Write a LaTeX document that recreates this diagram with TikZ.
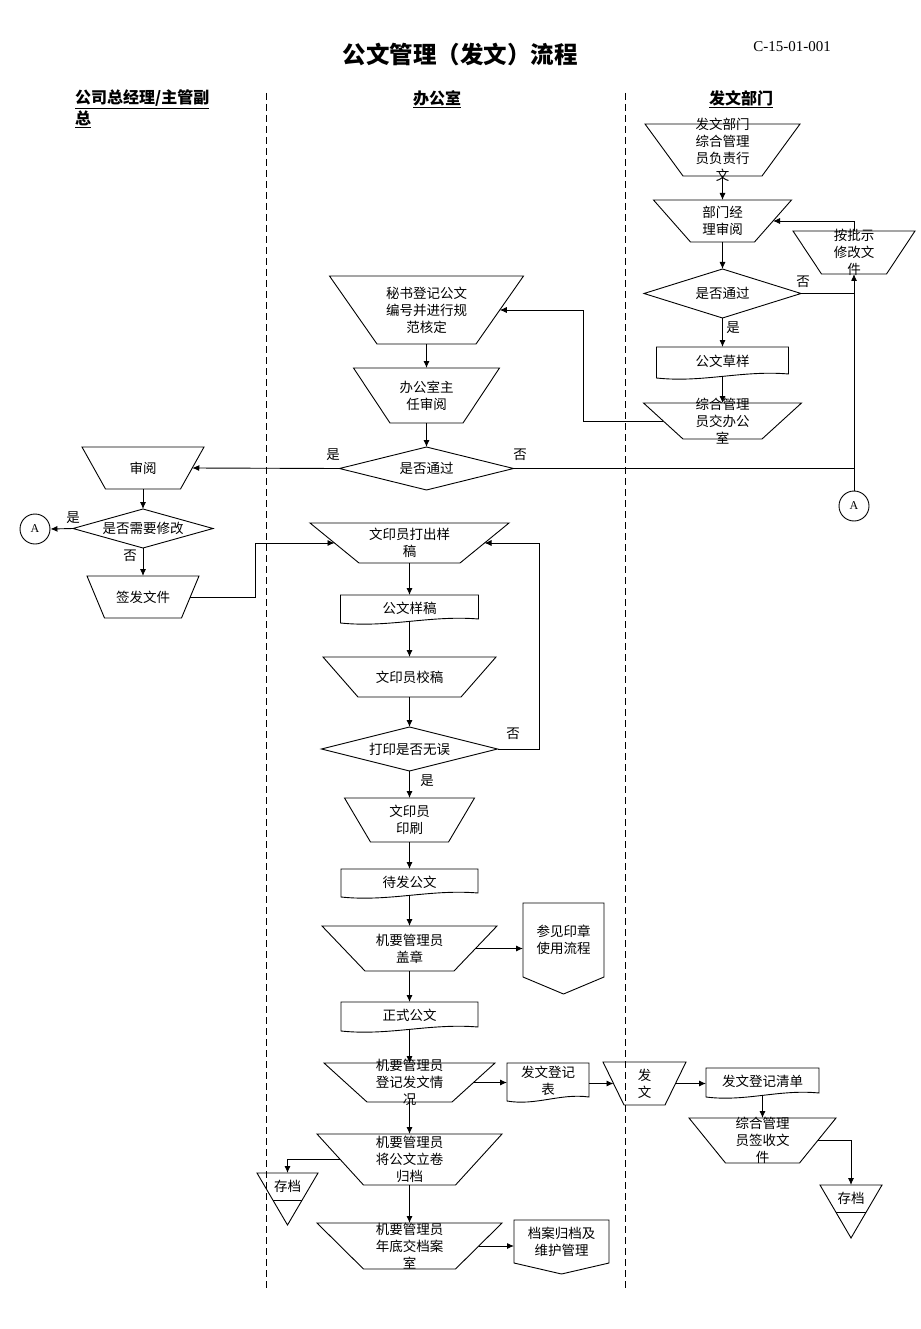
\documentclass[tikz,border=0pt]{standalone}
\usepackage{fontspec}
\setmainfont{Noto Sans CJK SC}
\newfontfamily\lserif{Liberation Serif}
\usetikzlibrary{arrows.meta}
\tikzset{
  shp/.style={draw=black, line width=0.9pt, line join=miter},
  anchorbox/.style={rectangle, draw=none, inner sep=0pt, outer sep=0pt},
  txt/.style={inner sep=0pt, align=center, font=\fontsize{13.5}{17}\selectfont},
  lbl/.style={inner sep=0pt, font=\fontsize{13.5}{17}\selectfont},
  arr/.style={draw, line width=0.9pt, -{Latex[length=7pt,width=6pt]}},
  conn/.style={draw, line width=0.9pt},
  lanesep/.style={draw, line width=0.9pt, dash pattern=on 7pt off 4pt},
  hdr/.style={inner sep=0pt, font=\bfseries\fontsize{16}{19}\selectfont},
  conncircle/.style={circle, draw, line width=0.9pt, minimum size=30pt, inner sep=0pt, font=\lserif\fontsize{12}{14}\selectfont},
}
% name, cx, ytop, ybot, top half width, bottom half width, text
\newcommand{\trapbox}[7]{%
  \draw[shp] ({#2-#5},#3) -- ({#2+#5},#3) -- ({#2+#6},#4) -- ({#2-#6},#4) -- cycle;
  \node[anchorbox, minimum width={2*#5}, minimum height={#4-#3}] (#1) at (#2,{(#3+#4)/2}) {};
  \coordinate (#1-e) at ({#2+(#5+#6)/2},{(#3+#4)/2});
  \coordinate (#1-w) at ({#2-(#5+#6)/2},{(#3+#4)/2});
  \node[txt] (#1-t) at (#1.center) {#7};
}
% name, cx, cy, half width, half height, text
\newcommand{\decision}[6]{%
  \draw[shp] ({#2-#4},#3) -- (#2,{#3-#5}) -- ({#2+#4},#3) -- (#2,{#3+#5}) -- cycle;
  \node[anchorbox, minimum width={2*#4}, minimum height={2*#5}] (#1) at (#2,#3) {};
  \node[txt] (#1-t) at (#2,#3) {#6};
}
% name, x1, x2, ytop, ybot, text
\newcommand{\docbox}[6]{%
  \draw[shp] (#2,#4) -- (#3,#4) -- (#3,{#5-4}) .. controls ({#2+0.65*(#3-#2)},{#5-8}) and ({#2+0.35*(#3-#2)},{#5+5}) .. (#2,#5) -- cycle;
  \node[anchorbox, minimum width={#3-#2}, minimum height={#5-#4}] (#1) at ({(#2+#3)/2},{(#4+#5)/2}) {};
  \coordinate (#1-s) at ({(#2+#3)/2},{#5-2});
  \node[txt] (#1-t) at ({(#2+#3)/2},{(#4+#5)/2-1}) {#6};
}
% name, x1, x2, ytop, yside, yapex, text
\newcommand{\offpage}[7]{%
  \draw[shp] (#2,#4) -- (#3,#4) -- (#3,#5) -- ({(#2+#3)/2},#6) -- (#2,#5) -- cycle;
  \node[anchorbox, minimum width={#3-#2}, minimum height={#6-#4}] (#1) at ({(#2+#3)/2},{(#4+#6)/2}) {};
  \node[txt] (#1-t) at ({(#2+#3)/2},{(#4+#5)/2}) {#7};
}
% name, cx, ytop, half width, yapex, yline, text
\newcommand{\storetri}[7]{%
  \draw[shp] ({#2-#4},#3) -- ({#2+#4},#3) -- (#2,#5) -- cycle;
  \pgfmathsetmacro\trilw{#4*(#5-#6)/(#5-#3)}
  \draw[shp] ({#2-\trilw},#6) -- ({#2+\trilw},#6);
  \node[anchorbox, minimum width={2*#4}, minimum height={#5-#3}] (#1) at (#2,{(#3+#5)/2}) {};
  \node[txt] (#1-t) at (#2,{(#3+#6)/2}) {#7};
}
\begin{document}
\begin{tikzpicture}[x=1pt,y=-1pt]
\useasboundingbox (0,0) rectangle (920,1329);
\fill[white] (0,0) rectangle (920,1329);

% title and headers
\node[inner sep=0pt, font=\bfseries\fontsize{23.5}{28}\selectfont] (title) at (460,55) {公文管理（发文）流程};
\node[inner sep=0pt, font=\lserif\fontsize{15}{18}\selectfont] (code) at (792,47) {C-15-01-001};
\node[hdr, anchor=west] (h1a) at (75,99) {\underline{公司总经理/主管副}};
\node[hdr, anchor=west] (h1b) at (75,119) {\underline{总}};
\node[hdr] (h2) at (437,99) {\underline{办公室}};
\node[hdr] (h3) at (741,99) {\underline{发文部门}};

% lane separators
\draw[lanesep] (266,93) -- (266,1288);
\draw[lanesep] (625,93) -- (625,1288);

% right column
\trapbox{r1}{722.5}{124}{176}{77.5}{39.5}{发文部门\\综合管理\\员负责行\\文}
\trapbox{r2}{722.5}{200}{242}{69}{32}{部门经\\理审阅}
\decision{rd}{722.5}{293.5}{78.5}{24.5}{是否通过}
\docbox{rdoc}{656.5}{788.5}{347}{378}{公文草样}
\trapbox{r3}{722.5}{403}{439}{79}{39.5}{综合管理\\员交办公\\室}
\trapbox{r4}{854}{231}{274}{61}{32.5}{按批示\\修改文\\件}
\node[conncircle] (A2) at (854,506) {A};

% middle column, upper part
\trapbox{m1}{426.5}{276}{344}{97}{49.5}{秘书登记公文\\编号并进行规\\范核定}
\trapbox{m2}{426.5}{368}{423}{73}{36.5}{办公室主\\任审阅}
\decision{md}{426.5}{468.5}{87}{21.5}{是否通过}

% left column
\trapbox{l1}{143}{447}{489}{61}{37.5}{审阅}
\decision{ld}{143}{528.5}{70}{19.5}{是否需要修改}
\node[conncircle] (A1) at (35,529) {A};
\trapbox{l2}{143}{576}{618}{56}{38.5}{签发文件}

% middle column, lower part
\trapbox{m3}{409.5}{523}{563}{99.5}{50.5}{文印员打出样\\稿}
\docbox{m4}{340.5}{478.5}{595}{623}{公文样稿}
\trapbox{m5}{409.5}{657}{697}{86.5}{51.5}{文印员校稿}
\decision{m6}{409.5}{749}{88}{22}{打印是否无误}
\trapbox{m7}{409.5}{798}{842}{65}{39}{文印员\\印刷}
\docbox{m8}{341}{478}{869}{897}{待发公文}
\trapbox{m9}{409.5}{926}{971}{87.5}{44.5}{机要管理员\\盖章}
\offpage{o1}{523}{604}{903}{977}{994}{参见印章\\使用流程}
\docbox{m10}{341}{478}{1002}{1031}{正式公文}
\trapbox{m11}{409.5}{1063}{1102}{85.5}{42.5}{机要管理员\\登记发文情\\况}
\docbox{m12}{507}{589}{1063}{1101}{发文登记\\表}
\trapbox{r5}{644.5}{1062}{1105}{41.5}{20.5}{发\\文}
\docbox{r6}{706}{819}{1068}{1097}{发文登记清单}
\trapbox{r7}{762.5}{1118}{1163}{73.5}{37}{综合管理\\员签收文\\件}
\storetri{s2}{851}{1185}{31}{1238}{1212}{存档}
\trapbox{m13}{409.5}{1134}{1185}{92.5}{46}{机要管理员\\将公文立卷\\归档}
\storetri{s1}{287.5}{1173}{30.5}{1225}{1200}{存档}
\trapbox{m14}{409.5}{1223}{1269}{92.5}{46}{机要管理员\\年底交档案\\室}
\offpage{o2}{514}{609}{1220}{1263}{1274}{档案归档及\\维护管理}

% connectors, right column
\draw[arr] (r1.south) -- (r2.north);
\draw[arr] (r2.south) -- (rd.north);
\draw[arr] (rd.south) -- (rdoc.north);
\draw[arr] (rdoc-s) -- (r3.north);
\draw[arr] (r3-w) -- ([xshift=-80pt]r3-w) |- (m1-e);
\draw[conn] (rd.east) -- (rd.east -| r4.south);
\draw[arr] (A2.north) -- (r4.south);
\draw[arr] (r4.north) |- (r2-e);

% connectors, upper middle and left
\draw[arr] (m1.south) -- (m2.north);
\draw[arr] (m2.south) -- (md.north);
\draw[arr] (md.west) -- (l1-e);
\draw[conn] (md.east) -- (md.east -| A2.north);
\draw[arr] (l1.south) -- (ld.north);
\draw[arr] (ld.west) -- (A1.east);
\draw[arr] (ld.south) -- (l2.north);
\draw[arr] (l2-e) -- ([xshift=65pt]l2-e) |- (m3-w);

% connectors, lower middle
\draw[arr] (m3.south) -- (m4.north);
\draw[arr] (m4-s) -- (m5.north);
\draw[arr] (m5.south) -- (m6.north);
\draw[arr] (m6.east) -- ([xshift=42pt]m6.east) |- (m3-e);
\draw[arr] (m6.south) -- (m7.north);
\draw[arr] (m7.south) -- (m8.north);
\draw[arr] (m8-s) -- (m9.north);
\draw[arr] (m9-e) -- (m9-e -| o1.west);
\draw[arr] (m9.south) -- (m10.north);
\draw[arr] (m10-s) -- (m11.north);
\draw[arr] (m11-e) -- (m11-e -| m12.west);
\draw[arr] (m12.east |- r5-w) -- (r5-w);
\draw[arr] (r5-e) -- (r5-e -| r6.west);
\draw[arr] (r6-s) -- (r7.north);
\draw[arr] (r7-e) -| (s2.north);
\draw[arr] (m11.south) -- (m13.north);
\draw[arr] (m13-w) -| (s1.north);
\draw[arr] (m13.south) -- (m14.north);
\draw[arr] (m14-e) -- (m14-e -| o2.west);

% branch labels
\node[lbl] (y1) at (733,328) {是};
\node[lbl] (n1) at (803,282) {否};
\node[lbl] (y2) at (333,455) {是};
\node[lbl] (n2) at (520,455) {否};
\node[lbl] (y3) at (73,518) {是};
\node[lbl] (n3) at (130,556) {否};
\node[lbl] (n4) at (513,734) {否};
\node[lbl] (y4) at (427,781) {是};
\end{tikzpicture}
\end{document}
